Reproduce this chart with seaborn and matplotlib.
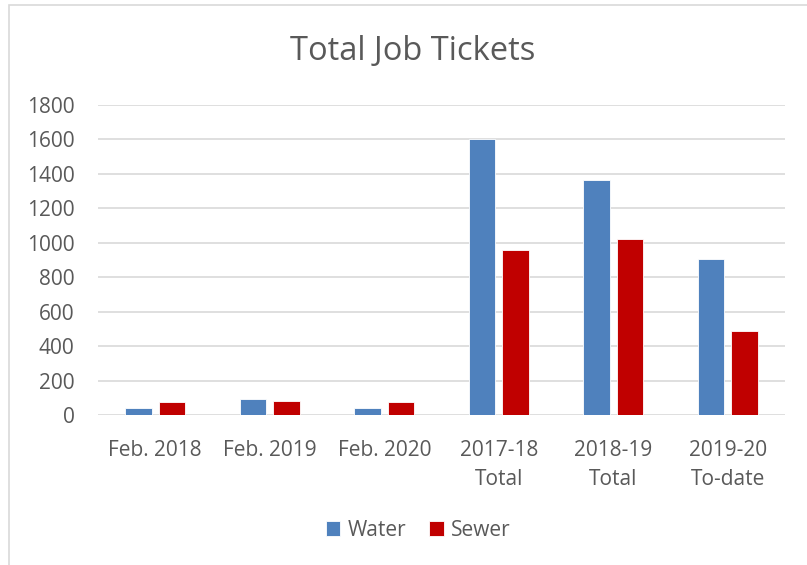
import matplotlib
matplotlib.use("Agg")
import matplotlib.pyplot as plt
import seaborn as sns
import pandas as pd
from matplotlib.patches import Rectangle

categories = ["Feb. 2018", "Feb. 2019", "Feb. 2020", "2017-18\nTotal", "2018-19\nTotal", "2019-20\nTo-date"]
water = [40, 95, 43, 1600, 1365, 905]
sewer = [74, 79, 77, 958, 1020, 487]
series = ["Water", "Sewer"]
colors = ["#4F81BD", "#C00000"]

df = pd.DataFrame({
    "cat": categories * 2,
    "tickets": water + sewer,
    "series": ["Water"] * len(categories) + ["Sewer"] * len(categories),
})

sns.set_theme(style="white")
plt.rcParams["font.family"] = ["Open Sans", "DejaVu Sans"]
text_color = "#595959"

fig = plt.figure(figsize=(8.07, 5.65), dpi=100)
ax = fig.add_axes([98 / 807, 1 - 415 / 565, (785 - 98) / 807, 310 / 565])

sns.barplot(data=df, x="cat", y="tickets", hue="series", order=categories,
            hue_order=series, palette=colors, saturation=1, width=0.58, gap=0.2,
            edgecolor="white", linewidth=0.6, ax=ax, legend=True)

ax.set_ylim(0, 1800)
ax.set_yticks(range(0, 1801, 200))
ax.set_xlim(-0.5, len(categories) - 0.5)
ax.grid(axis="y", color="#D9D9D9", linewidth=1.2)
ax.set_axisbelow(True)
for s in ax.spines.values():
    s.set_visible(False)
ax.tick_params(axis="both", length=0, colors=text_color, labelsize=15)
ax.tick_params(axis="y", pad=17)
ax.tick_params(axis="x", pad=18)
for lbl in ax.get_xticklabels():
    lbl.set_color(text_color)
    lbl.set_linespacing(1.5)
for lbl in ax.get_yticklabels():
    lbl.set_color(text_color)
ax.set_xlabel("")
ax.set_ylabel("")

fig.text(413 / 807, 1 - 52 / 565, "Total Job Tickets", ha="center", va="center",
         fontsize=23.5, color=text_color)

handles, labels = ax.get_legend_handles_labels()
ax.legend_.remove()
fig.legend(handles, labels, loc="center", bbox_to_anchor=(418 / 807, 1 - 530 / 565),
           ncol=2, frameon=False, fontsize=15, handlelength=0.7, handleheight=0.7,
           columnspacing=1.1, handletextpad=0.35, labelcolor=text_color)

fig.patches.append(Rectangle((9 / 807, -0.1), 1.2, 1 - 5 / 565 + 0.1, transform=fig.transFigure,
                             fill=False, edgecolor="#D9D9D9", linewidth=1.2, zorder=0))

fig.savefig("out.png", dpi=100)
